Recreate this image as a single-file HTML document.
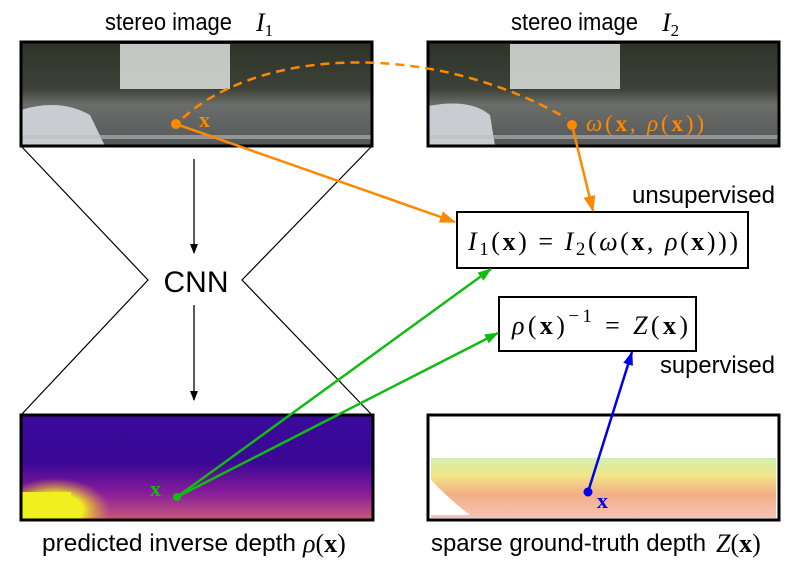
<!DOCTYPE html>
<html><head><meta charset="utf-8"><style>
body{margin:0;background:#fff;width:798px;height:566px;overflow:hidden}
svg{display:block}
.s{font-family:"Liberation Sans",sans-serif;font-size:24px;fill:#000}
.m{font-family:"Liberation Serif",serif;font-size:26px;fill:#000}
</style></head><body>
<svg width="798" height="566" viewBox="0 0 798 566" xmlns="http://www.w3.org/2000/svg">
<defs>
<linearGradient id="ph" x1="0" y1="0" x2="0" y2="1">
<stop offset="0" stop-color="#2e3328"/><stop offset="0.45" stop-color="#3d4238"/><stop offset="0.6" stop-color="#6b6d6a"/><stop offset="1" stop-color="#55585a"/></linearGradient>
<linearGradient id="dp" x1="0" y1="0" x2="0" y2="1">
<stop offset="0" stop-color="#3a0a9a"/><stop offset="0.45" stop-color="#3a0796"/><stop offset="0.75" stop-color="#8a1d9a"/><stop offset="1" stop-color="#c85a78"/></linearGradient>
<radialGradient id="yl" cx="0.5" cy="0.5" r="0.5"><stop offset="0.5" stop-color="#f0f020"/><stop offset="1" stop-color="#f0a040" stop-opacity="0"/></radialGradient>
<linearGradient id="sp" x1="0" y1="0" x2="0" y2="1">
<stop offset="0" stop-color="#c8f0a0"/><stop offset="0.3" stop-color="#f0e070"/><stop offset="0.6" stop-color="#f0a070"/><stop offset="1" stop-color="#f5b8a8"/></linearGradient>
<clipPath id="dc"><rect x="21" y="415" width="352" height="105"/></clipPath>
<marker id="ak" markerWidth="10" markerHeight="8" refX="9" refY="4" orient="auto" markerUnits="userSpaceOnUse"><path d="M0,0L10,4L0,8z" fill="#000"/></marker>
<marker id="ag" markerWidth="14" markerHeight="10" refX="13" refY="5" orient="auto" markerUnits="userSpaceOnUse"><path d="M0,0L14,5L0,10z" fill="#11bb11"/></marker>
<marker id="ab" markerWidth="14" markerHeight="10" refX="13" refY="5" orient="auto" markerUnits="userSpaceOnUse"><path d="M0,0L14,5L0,10z" fill="#0000ee"/></marker>
<marker id="ao2" markerWidth="16" markerHeight="12" refX="15" refY="6" orient="auto" markerUnits="userSpaceOnUse"><path d="M0,0L16,6L0,12z" fill="#ff8800"/></marker>
</defs>

<text class="s" x="105" y="30" textLength="127" lengthAdjust="spacingAndGlyphs">stereo image</text><text class="m" x="256" y="31" font-style="italic">I<tspan font-size="17" font-style="normal" dy="5">1</tspan></text>
<text class="s" x="511" y="30" textLength="127" lengthAdjust="spacingAndGlyphs">stereo image</text><text class="m" x="662" y="31" font-style="italic">I<tspan font-size="17" font-style="normal" dy="5">2</tspan></text>

<g>
<rect x="21" y="42" width="351" height="104" fill="url(#ph)"/>
<rect x="120" y="44" width="110" height="45" fill="#e8ece8" opacity="0.8"/>
<path d="M21,110 Q60,98 90,115 L105,146 L21,146z" fill="#c9ccd0"/>
<rect x="21" y="135" width="351" height="4" fill="#bbb" opacity="0.6"/>
<rect x="21" y="42" width="351" height="104" fill="none" stroke="#000" stroke-width="3"/>
</g>
<g>
<rect x="428" y="42" width="351" height="104" fill="url(#ph)"/>
<rect x="510" y="44" width="110" height="45" fill="#e8ece8" opacity="0.8"/>
<path d="M428,106 Q470,98 490,115 L495,146 L428,146z" fill="#c9ccd0"/>
<rect x="428" y="135" width="351" height="4" fill="#bbb" opacity="0.6"/>
<rect x="428" y="42" width="351" height="104" fill="none" stroke="#000" stroke-width="3"/>
</g>

<polyline points="21,146 148,280 21,415" fill="none" stroke="#000" stroke-width="1.2"/>
<polyline points="372,146 242,280 372,415" fill="none" stroke="#000" stroke-width="1.2"/>
<text x="196" y="292" text-anchor="middle" font-family="Liberation Sans,sans-serif" font-size="30">CNN</text>
<line x1="194" y1="159" x2="194" y2="253" stroke="#000" stroke-width="1.3" marker-end="url(#ak)"/>
<line x1="194" y1="305" x2="194" y2="400" stroke="#000" stroke-width="1.3" marker-end="url(#ak)"/>

<rect x="21" y="415" width="352" height="105" fill="url(#dp)"/>
<g clip-path="url(#dc)">
<ellipse cx="55" cy="510" rx="55" ry="32" fill="url(#yl)"/>
<rect x="21" y="492" width="50" height="30" fill="#f0f020"/>
</g>
<rect x="21" y="415" width="352" height="105" fill="none" stroke="#000" stroke-width="3"/>

<rect x="428" y="415" width="351" height="105" fill="#fff"/>
<rect x="431" y="458" width="345" height="60" fill="url(#sp)" opacity="0.85"/>
<path d="M431,480 Q450,500 470,515 L431,515z" fill="#fff"/>
<rect x="428" y="415" width="351" height="105" fill="none" stroke="#000" stroke-width="3"/>

<text class="s" x="42" y="551" textLength="254" lengthAdjust="spacingAndGlyphs">predicted inverse depth</text><text class="m" x="303" y="552"><tspan font-style="italic">ρ</tspan>(<tspan font-weight="bold">x</tspan>)</text>
<text class="s" x="431" y="551" textLength="275" lengthAdjust="spacingAndGlyphs">sparse ground-truth depth</text><text class="m" x="716" y="552"><tspan font-style="italic">Z</tspan>(<tspan font-weight="bold">x</tspan>)</text>

<rect x="457" y="212" width="291" height="56" fill="#fff" stroke="#000" stroke-width="2"/>
<text class="m" x="468" y="250" font-size="30" textLength="270" lengthAdjust="spacing"><tspan font-style="italic">I</tspan><tspan font-size="19" dy="5">1</tspan><tspan dy="-5">(</tspan><tspan font-weight="bold">x</tspan>) = <tspan font-style="italic">I</tspan><tspan font-size="19" dy="5">2</tspan><tspan dy="-5">(</tspan><tspan font-style="italic">ω</tspan>(<tspan font-weight="bold">x</tspan>, <tspan font-style="italic">ρ</tspan>(<tspan font-weight="bold">x</tspan>)))</text>
<rect x="499" y="297" width="197" height="54" fill="#fff" stroke="#000" stroke-width="2"/>
<text class="m" x="512" y="334" font-size="30" textLength="176" lengthAdjust="spacing"><tspan font-style="italic">ρ</tspan>(<tspan font-weight="bold">x</tspan>)<tspan font-size="19" dy="-12">−1</tspan><tspan dy="12"> = </tspan><tspan font-style="italic">Z</tspan>(<tspan font-weight="bold">x</tspan>)</text>
<text class="s" x="632" y="203" textLength="143" lengthAdjust="spacingAndGlyphs">unsupervised</text>
<text class="s" x="660" y="373" textLength="115" lengthAdjust="spacingAndGlyphs">supervised</text>

<path d="M183,118 C260,48 430,40 566,118" fill="none" stroke="#ff8800" stroke-width="2.5" stroke-dasharray="9,6"/>
<line x1="176" y1="124" x2="455" y2="222" stroke="#ff8800" stroke-width="2.5" marker-end="url(#ao2)"/>
<line x1="572" y1="125" x2="593" y2="211" stroke="#ff8800" stroke-width="2.5" marker-end="url(#ao2)"/>
<circle cx="176" cy="124" r="5" fill="#ff8800"/>
<circle cx="572" cy="125" r="5" fill="#ff8800"/>
<text x="199" y="127" font-family="Liberation Serif,serif" font-size="22" font-weight="bold" fill="#ff8800">x</text>
<text x="586" y="131" font-family="Liberation Serif,serif" font-size="23" fill="#ff8800" textLength="118" lengthAdjust="spacing"><tspan font-style="italic">ω</tspan>(<tspan font-weight="bold">x</tspan>, <tspan font-style="italic">ρ</tspan>(<tspan font-weight="bold">x</tspan>))</text>

<line x1="177" y1="497" x2="491" y2="269" stroke="#11bb11" stroke-width="2.5" marker-end="url(#ag)"/>
<line x1="177" y1="497" x2="498" y2="333" stroke="#11bb11" stroke-width="2.5" marker-end="url(#ag)"/>
<circle cx="177" cy="497" r="4" fill="#11bb11"/>
<text x="150" y="496" font-family="Liberation Serif,serif" font-size="22" font-weight="bold" fill="#11bb11">x</text>

<line x1="588" y1="492" x2="632" y2="352" stroke="#0000ee" stroke-width="2.5" marker-end="url(#ab)"/>
<circle cx="588" cy="492" r="4.5" fill="#0000ee"/>
<text x="597" y="508" font-family="Liberation Serif,serif" font-size="22" font-weight="bold" fill="#0000ee">x</text>
</svg>
</body></html>
